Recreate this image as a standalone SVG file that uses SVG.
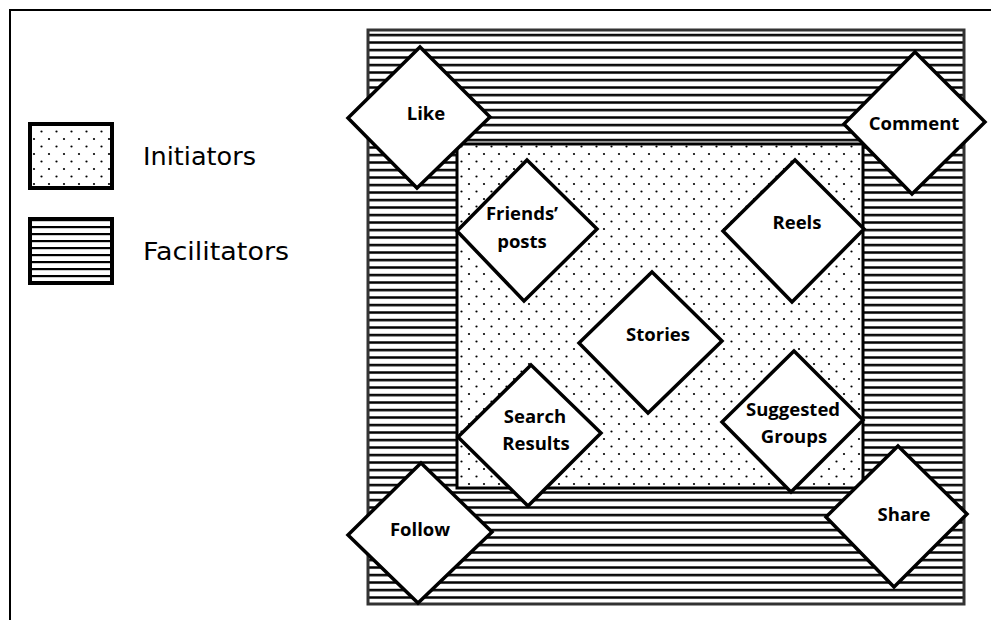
<svg xmlns="http://www.w3.org/2000/svg" width="991" height="620" viewBox="0 0 991 620">
  <style>
    .node { fill: #fff; stroke: #000; stroke-width: 3.5; stroke-linejoin: miter; }
    .lbl { font-family: "Open Sans", "Liberation Sans", sans-serif; font-weight: 700; font-size: 18.5px; fill: #000; text-anchor: middle; }
    .legend { font-family: "DejaVu Sans", "Liberation Sans", sans-serif; font-size: 24px; fill: #000; }
  </style>
  <defs>
    <pattern id="hatch" patternUnits="userSpaceOnUse" x="0" y="0" width="20" height="7.5">
      <rect x="0" y="0" width="20" height="7.5" fill="#fff"/>
      <rect x="0" y="3.8" width="20" height="2.5" fill="#000"/>
    </pattern>
    <pattern id="hatchSmall" patternUnits="userSpaceOnUse" x="0" y="0" width="20" height="7">
      <rect x="0" y="0" width="20" height="7" fill="#fff"/>
      <rect x="0" y="2" width="20" height="2.2" fill="#000"/>
    </pattern>
    <pattern id="dots" patternUnits="userSpaceOnUse" x="0" y="0" width="15" height="15">
      <rect x="0" y="0" width="15" height="15" fill="#fff"/>
      <circle cx="4" cy="4" r="1.1" fill="#000"/>
      <circle cx="11.5" cy="11.5" r="1.1" fill="#000"/>
    </pattern>
  </defs>

  <rect x="0" y="0" width="991" height="620" fill="#fff"/>

  <!-- page frame -->
  <path d="M10 620 V10 H991" fill="none" stroke="#000" stroke-width="2"/>

  <!-- legend -->
  <g id="legend">
    <rect x="30" y="124" width="82" height="64" fill="url(#dots)" stroke="#000" stroke-width="4"/>
    <text class="legend" x="143" y="165" textLength="113" lengthAdjust="spacingAndGlyphs">Initiators</text>
    <rect x="30" y="219" width="82" height="64" fill="url(#hatchSmall)" stroke="#000" stroke-width="4"/>
    <text class="legend" x="143" y="260" textLength="146" lengthAdjust="spacingAndGlyphs">Facilitators</text>
  </g>

  <!-- facilitator band -->
  <g id="facilitators-area">
    <rect x="368" y="30" width="596" height="574" fill="url(#hatch)" stroke="#333" stroke-width="3"/>
  </g>

  <!-- initiator area -->
  <g id="initiators-area">
    <rect x="457" y="144" width="406" height="344" fill="url(#dots)" stroke="#000" stroke-width="3"/>
  </g>

  <!-- initiator nodes -->
  <g id="friends-posts">
    <polygon class="node" points="527,160 597,229 524,301 457,231"/>
    <text class="lbl" x="522" y="220">Friends’</text>
    <text class="lbl" x="522" y="248">posts</text>
  </g>
  <g id="reels">
    <polygon class="node" points="795,160 864,229 792,302 723,231"/>
    <text class="lbl" x="797" y="229">Reels</text>
  </g>
  <g id="stories">
    <polygon class="node" points="652,272 722,341 648,413 579,343"/>
    <text class="lbl" x="658" y="341">Stories</text>
  </g>
  <g id="search-results">
    <polygon class="node" points="531,365 601,433 528,506 458,437"/>
    <text class="lbl" x="535" y="423">Search</text>
    <text class="lbl" x="536" y="450">Results</text>
  </g>
  <g id="suggested-groups">
    <polygon class="node" points="794,351 863,420 791,492 722,422"/>
    <text class="lbl" x="793" y="416">Suggested</text>
    <text class="lbl" x="794" y="443">Groups</text>
  </g>

  <!-- facilitator nodes -->
  <g id="like">
    <polygon class="node" points="420,47 490,117 417,188 348,118"/>
    <text class="lbl" x="426" y="120">Like</text>
  </g>
  <g id="comment">
    <polygon class="node" points="915,52 985,122 912,194 844,124"/>
    <text class="lbl" x="914" y="130">Comment</text>
  </g>
  <g id="follow">
    <polygon class="node" points="421,463 492,532 418,603 348,535"/>
    <text class="lbl" x="420" y="536">Follow</text>
  </g>
  <g id="share">
    <polygon class="node" points="898,446 967,514 894,587 826,517"/>
    <text class="lbl" x="904" y="521">Share</text>
  </g>

  <g id="connectors"/>
</svg>
